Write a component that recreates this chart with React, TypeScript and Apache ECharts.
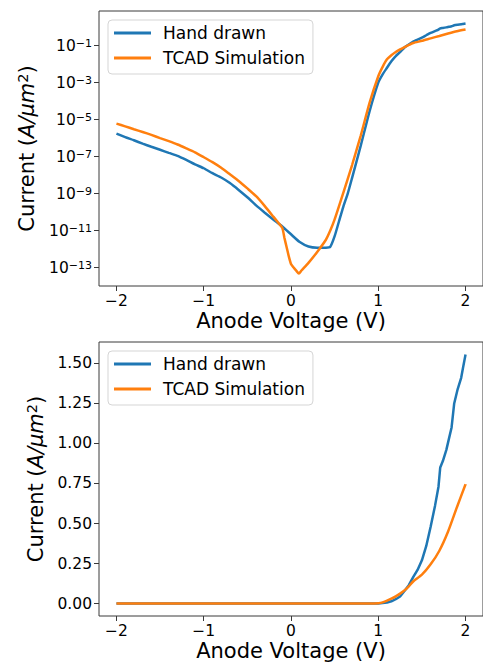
import React, { useEffect, useRef } from "react";
import * as echarts from "echarts";

// Hand drawn curve (anode voltage in V, current in A/um^2)
const voltageHand = [-2, -1.9, -1.8, -1.7, -1.6, -1.5, -1.4, -1.3, -1.2, -1.1, -1.0, -0.9, -0.8, -0.7, -0.6, -0.5, -0.4, -0.3, -0.2, -0.1, 0, 0.1, 0.2, 0.3, 0.4, 0.45, 0.5, 0.55, 0.6, 0.65, 0.7, 0.8, 0.9, 1.0, 1.05, 1.1, 1.15, 1.2, 1.25, 1.3, 1.35, 1.4, 1.45, 1.5, 1.55, 1.6, 1.65, 1.69, 1.71, 1.74, 1.78, 1.81, 1.84, 1.87, 1.91, 1.95, 1.97, 2.0];
const currentHand = [1.74e-6, 1.12e-6, 7.6e-7, 5.0e-7, 3.4e-7, 2.34e-7, 1.58e-7, 1.1e-7, 6.6e-8, 3.8e-8, 2.34e-8, 1.26e-8, 7.4e-9, 3.7e-9, 1.58e-9, 6.3e-10, 2.3e-10, 9.3e-11, 3.9e-11, 1.66e-11, 6.3e-12, 2.4e-12, 1.38e-12, 1.2e-12, 1.2e-12, 1.35e-12, 5.0e-12, 3.2e-11, 2.0e-10, 1.0e-9, 7.1e-9, 4.0e-7, 2.8e-5, 1.0e-3, 2.8e-3, 6.3e-3, 0.014, 0.027, 0.044, 0.078, 0.115, 0.165, 0.21, 0.27, 0.36, 0.48, 0.61, 0.73, 0.85, 0.89, 0.96, 1.03, 1.1, 1.25, 1.34, 1.41, 1.47, 1.556];

// TCAD simulation curve
const voltageTcad = [-2, -1.9, -1.8, -1.7, -1.6, -1.5, -1.4, -1.3, -1.2, -1.1, -1.0, -0.9, -0.8, -0.7, -0.6, -0.5, -0.4, -0.3, -0.2, -0.15, -0.1, -0.075, -0.05, -0.025, 0, 0.03, 0.06, 0.09, 0.12, 0.2, 0.3, 0.4, 0.45, 0.5, 0.6, 0.7, 0.8, 0.9, 1.0, 1.05, 1.1, 1.15, 1.2, 1.25, 1.3, 1.35, 1.4, 1.5, 1.6, 1.7, 1.8, 1.9, 2.0];
const currentTcad = [6.0e-6, 4.3e-6, 3.0e-6, 2.14e-6, 1.48e-6, 1.0e-6, 6.8e-7, 4.5e-7, 2.8e-7, 1.7e-7, 9.3e-8, 5.0e-8, 2.5e-8, 1.1e-8, 4.8e-9, 1.9e-9, 7.2e-10, 2.1e-10, 5.5e-11, 2.8e-11, 1.4e-11, 4.0e-12, 1.26e-12, 4.0e-13, 1.58e-13, 1.0e-13, 6.8e-14, 4.8e-14, 7.0e-14, 1.8e-13, 7.0e-13, 3.2e-12, 1.0e-11, 4.0e-11, 1.12e-9, 3.5e-8, 1.4e-6, 7.9e-5, 2.2e-3, 7.1e-3, 0.018, 0.03, 0.045, 0.062, 0.082, 0.108, 0.138, 0.18, 0.245, 0.33, 0.45, 0.6, 0.745];

const seriesNames = ["Hand drawn", "TCAD Simulation"];
const xTicks = [-2, -1, 0, 1, 2];
const logTickExponents = [-13, -11, -9, -7, -5, -3, -1];
const linearTicks = [0, 0.25, 0.5, 0.75, 1.0, 1.25, 1.5];

const BLUE = "#1f77b4";
const ORANGE = "#ff7f0e";
const FONT = "DejaVu Sans";
const SPINE = "#3a3a3a";

function padRange(vals: number[]) {
  const lo = Math.min(...vals);
  const hi = Math.max(...vals);
  const p = (hi - lo) * 0.05;
  return [lo - p, hi + p];
}

function minusFmt(v: number) {
  return v < 0 ? "\u2212" + Math.abs(v) : String(v);
}

export default function App() {
  const ref = useRef<HTMLDivElement>(null);

  useEffect(() => {
    if (!ref.current) return;
    const chart = echarts.init(ref.current, null, { renderer: "svg" });

    const logHand = currentHand.map((c) => Math.log10(c));
    const logTcad = currentTcad.map((c) => Math.log10(c));
    const [logMin, logMax] = padRange([...logHand, ...logTcad]);
    const [linMin, linMax] = padRange([...currentHand, ...currentTcad]);
    const [xMin, xMax] = padRange([...voltageHand, ...voltageTcad]);

    const tickStyle = { show: true, length: 5, lineStyle: { color: SPINE, width: 1 } };
    const labelBase = { color: "#000", fontFamily: FONT, fontSize: 15.5 };

    const makeX = (gridIndex: number) => ({
      type: "value",
      gridIndex,
      min: xMin,
      max: xMax,
      position: "bottom",
      splitLine: { show: false },
      axisLine: { show: false, onZero: false },
      axisTick: { ...tickStyle, customValues: xTicks },
      axisLabel: { ...labelBase, margin: 7, customValues: xTicks, formatter: (v: number) => minusFmt(v) },
      name: "Anode Voltage (V)",
      nameLocation: "middle",
      nameGap: 24,
      nameTextStyle: { color: "#000", fontFamily: FONT, fontSize: 21 },
    });

    const yName = "{n|Current (}{i|A/\u03bcm}{s|2}{n|)}";
    const yNameStyle = (gap: number) => ({
      name: yName,
      nameLocation: "middle",
      nameRotate: 90,
      nameGap: gap,
      nameTextStyle: {
        color: "#000",
        fontFamily: FONT,
        fontSize: 21,
        rich: {
          n: { fontFamily: FONT, fontSize: 21, color: "#000", lineHeight: 22, padding: [5, 0, 0, 0], verticalAlign: "bottom" },
          i: { fontFamily: FONT, fontSize: 21, fontStyle: "italic", color: "#000", lineHeight: 22, padding: [5, 0, 0, 0], verticalAlign: "bottom" },
          s: { fontFamily: FONT, fontSize: 14.5, color: "#000", lineHeight: 15, verticalAlign: "top" },
        },
      },
    });

    const legendCommon = {
      orient: "vertical",
      left: 108,
      itemWidth: 37,
      itemHeight: 3,
      itemGap: 7,
      selectedMode: false,
      backgroundColor: "#ffffff",
      borderColor: "#d5d5d5",
      borderWidth: 1,
      borderRadius: 4,
      padding: [4, 8, 7, 6],
      textStyle: { color: "#000", fontFamily: FONT, fontSize: 17, lineHeight: 18, padding: [0, 0, 0, 7] },
      data: seriesNames.map((n) => ({ name: n, icon: "rect" })),
    };

    const option = {
      animation: false,
      backgroundColor: "#ffffff",
      grid: [
        { left: 99, top: 11, width: 384.2, height: 275, show: true, borderColor: SPINE, borderWidth: 1, backgroundColor: "transparent", containLabel: false },
        { left: 99, top: 342, width: 384.2, height: 275, show: true, borderColor: SPINE, borderWidth: 1, backgroundColor: "transparent", containLabel: false },
      ],
      legend: [
        { ...legendCommon, top: 20 },
        { ...legendCommon, top: 351 },
      ],
      xAxis: [makeX(0), makeX(1)],
      yAxis: [
        {
          type: "value",
          gridIndex: 0,
          min: logMin,
          max: logMax,
          position: "left",
          splitLine: { show: false },
          axisLine: { show: false, onZero: false },
          axisTick: { ...tickStyle, customValues: logTickExponents },
          axisLabel: {
            ...labelBase,
            margin: 7,
            customValues: logTickExponents,
            formatter: (v: number) => "{b|10}{s|" + minusFmt(Math.round(v)) + "}",
            rich: {
              b: { fontFamily: FONT, fontSize: 15.5, color: "#000", lineHeight: 16, padding: [3, 0, 0, 0], verticalAlign: "bottom" },
              s: { fontFamily: FONT, fontSize: 11, color: "#000", lineHeight: 12, verticalAlign: "top" },
            },
          },
          ...yNameStyle(62),
        },
        {
          type: "value",
          gridIndex: 1,
          min: linMin,
          max: linMax,
          position: "left",
          splitLine: { show: false },
          axisLine: { show: false, onZero: false },
          axisTick: { ...tickStyle, customValues: linearTicks },
          axisLabel: { ...labelBase, margin: 7, customValues: linearTicks, formatter: (v: number) => v.toFixed(2) },
          ...yNameStyle(49),
        },
      ],
      series: [
        {
          name: seriesNames[0], type: "line", xAxisIndex: 0, yAxisIndex: 0, showSymbol: false, smooth: 0.2,
          color: BLUE, lineStyle: { color: BLUE, width: 2.5 },
          data: voltageHand.map((v, i) => [v, logHand[i]]),
        },
        {
          name: seriesNames[1], type: "line", xAxisIndex: 0, yAxisIndex: 0, showSymbol: false, smooth: 0.2,
          color: ORANGE, lineStyle: { color: ORANGE, width: 2.5 },
          data: voltageTcad.map((v, i) => [v, logTcad[i]]),
        },
        {
          name: seriesNames[0], type: "line", xAxisIndex: 1, yAxisIndex: 1, showSymbol: false,
          color: BLUE, lineStyle: { color: BLUE, width: 2.5 },
          data: voltageHand.map((v, i) => [v, currentHand[i]]),
        },
        {
          name: seriesNames[1], type: "line", xAxisIndex: 1, yAxisIndex: 1, showSymbol: false, smooth: 0.2,
          color: ORANGE, lineStyle: { color: ORANGE, width: 2.5 },
          data: voltageTcad.map((v, i) => [v, currentTcad[i]]),
        },
      ],
    };

    chart.setOption(option as any);
    return () => chart.dispose();
  }, []);

  return (
    <div
      ref={ref}
      style={{ position: "fixed", left: 0, top: 0, width: 483, height: 662, background: "#fff" }}
    />
  );
}
